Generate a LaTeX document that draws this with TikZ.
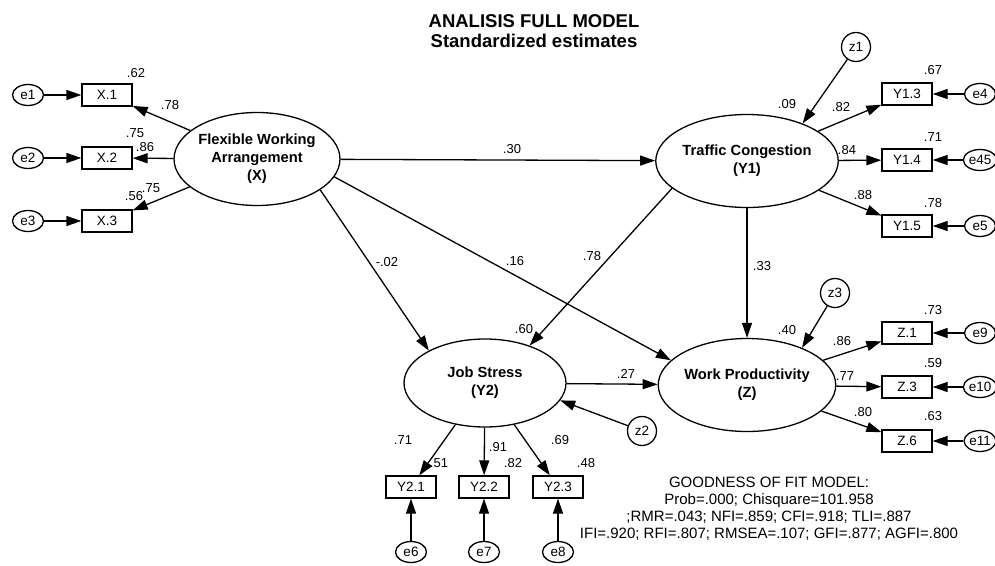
\documentclass[tikz,border=0pt]{standalone}
\usepackage{fontspec}
\setmainfont{Liberation Sans}
\usetikzlibrary{positioning,arrows.meta,shapes.geometric}

\begin{document}
\begin{tikzpicture}[x=1pt, y=-1pt, line width=1.3pt,
  lat/.style={ellipse, draw, inner sep=0pt, minimum width=162, minimum height=93, align=center, font=\fontsize{14.7}{18}\selectfont\bfseries},
  obs/.style={rectangle, draw, inner sep=0pt, minimum width=50, minimum height=22, font=\fontsize{13.5}{15}\selectfont},
  err/.style={ellipse, draw, inner sep=0.5pt, minimum width=31, minimum height=21, font=\fontsize{13.5}{15}\selectfont},
  dst/.style={circle, draw, inner sep=0pt, minimum size=29, font=\fontsize{13.5}{15}\selectfont},
  est/.style={inner sep=0pt, font=\fontsize{13}{15}\selectfont},
  arr/.style={-{Triangle[length=15pt, width=10pt]}}]
\useasboundingbox (0,0) rectangle (995,565);

\node[font=\fontsize{18.5}{19.5}\selectfont\bfseries, align=center] (title) at (534,31) {ANALISIS FULL MODEL\\Standardized estimates};

\node[lat] (X) at (257,159) {Flexible Working\\Arrangement\\(X)};
\node[lat] (Y1) at (747,161) {Traffic Congestion\\(Y1)};
\node[lat, minimum height=88] (Y2) at (485,383) {Job Stress\\(Y2)};
\node[lat] (Z) at (747,385) {Work Productivity\\(Z)};

\node[dst] (z1) at (856,47) {z1};
\node[dst] (z2) at (642,431) {z2};
\node[dst] (z3) at (835,293) {z3};

\foreach \i/\y in {1/95, 2/158, 3/221} {
  \node[obs] (x\i) at (107,\y) {X.\i};
  \node[err] (e\i) at (28,\y) {e\i};
  \draw[arr] (e\i) -- (x\i);
  \draw[arr] (X) -- (x\i);
}
\foreach \k/\y/\e in {3/94/e4, 4/160/e45, 5/226/e5} {
  \node[obs] (y1\k) at (907,\y) {Y1.\k};
  \node[err] (\e) at (980,\y) {\e};
  \draw[arr] (\e) -- (y1\k);
  \draw[arr] (Y1) -- (y1\k);
}
\foreach \k/\y/\e in {1/333/e9, 3/387/e10, 6/441/e11} {
  \node[obs] (zz\k) at (907,\y) {Z.\k};
  \node[err] (\e) at (980,\y) {\e};
  \draw[arr] (\e) -- (zz\k);
  \draw[arr] (Z) -- (zz\k);
}
\foreach \k/\x/\e in {1/411/e6, 2/484/e7, 3/558/e8} {
  \node[obs] (y2\k) at (\x,487) {Y2.\k};
  \node[err] (\e) at (\x,552) {\e};
  \draw[arr] (\e) -- (y2\k);
  \draw[arr] (Y2) -- (y2\k);
}

\draw[arr] (X) -- (Y1);
\draw[arr] (X.-26) -- (Y2.150);
\draw[arr] (X.-13) -- (Z.162);
\draw[arr] (Y1.200) -- (Y2.40);
\draw[arr] (Y1) -- (Z);
\draw[arr] (Y2) -- (Z);
\draw[arr] (z1) -- (Y1.34);
\draw[arr] (z2) -- (Y2.-13);
\draw[arr] (z3) -- (Z.34);

\node[est] at (136,73) {.62};
\node[est] at (170,105) {.78};
\node[est] at (135,133) {.75};
\node[est] at (145,147) {.86};
\node[est] at (134,196) {.56};
\node[est] at (151,188) {.75};

\node[est] at (512,149) {.30};
\node[est] at (787,104) {.09};
\node[est] at (841,107) {.82};
\node[est] at (847,150) {.84};
\node[est] at (863,195) {.88};
\node[est] at (933,70) {.67};
\node[est] at (933,137) {.71};
\node[est] at (933,203) {.78};

\node[est] at (387,262) {-.02};
\node[est] at (515,261) {.16};
\node[est] at (592,256) {.78};
\node[est] at (762,266) {.33};
\node[est] at (524,329) {.60};
\node[est] at (626,374) {.27};
\node[est] at (787,330) {.40};

\node[est] at (842,341) {.86};
\node[est] at (845,376) {.77};
\node[est] at (863,412) {.80};
\node[est] at (933,310) {.73};
\node[est] at (933,363) {.59};
\node[est] at (933,416) {.63};

\node[est] at (403,440) {.71};
\node[est] at (498,447) {.91};
\node[est] at (560,440) {.69};
\node[est] at (439,463) {.51};
\node[est] at (513,463) {.82};
\node[est] at (586,463) {.48};

\node[font=\fontsize{15}{17}\selectfont, align=center] (fit) at (769,508.5) {GOODNESS OF FIT MODEL:\\Prob=.000; Chisquare=101.958\\;RMR=.043; NFI=.859; CFI=.918; TLI=.887\\IFI=.920; RFI=.807; RMSEA=.107; GFI=.877; AGFI=.800};
\end{tikzpicture}
\end{document}
